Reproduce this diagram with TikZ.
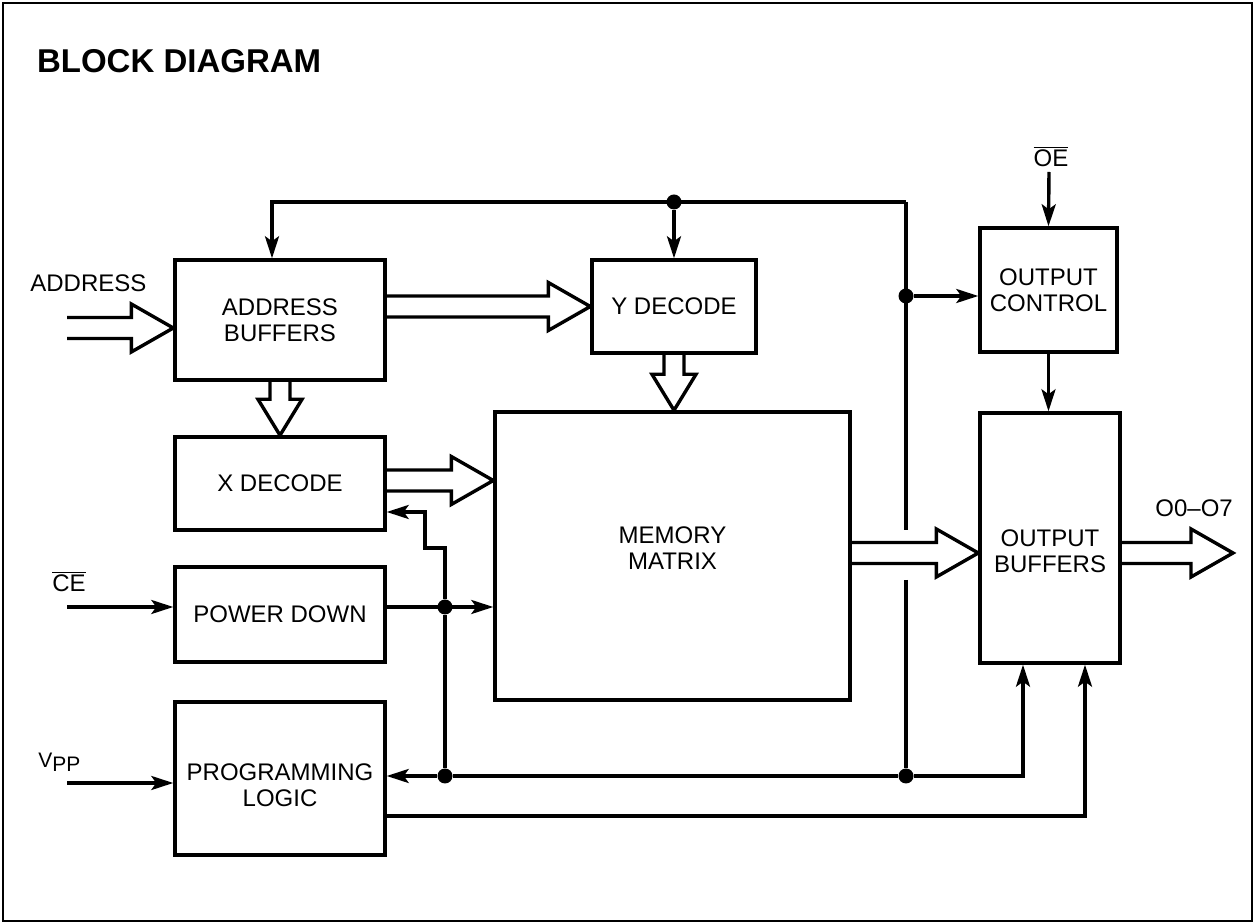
\documentclass[tikz,border=0pt]{standalone}
\usepackage{fontspec}
\setmainfont{Liberation Sans}
\usepackage{tikz}
\usetikzlibrary{arrows.meta,calc,positioning}
\colorlet{colorLN}{black}
\newcommand{\blkfont}{\fontsize{12}{13}\selectfont}
\tikzset{
   every path/.style={>={Stealth[length=11pt,width=7pt,inset=2.5pt]}},
   sig/.style={->,draw=colorLN,line width=1.7pt},
   wire/.style={draw=colorLN,line width=1.7pt},
   bus/.style={draw=colorLN,line width=1.7pt,line join=miter},
   jn/.style={circle,fill=colorLN,inner sep=0pt,minimum size=7.5pt},
   frame/.style={draw=colorLN,line width=1pt},
}
% wide bus arrow, left to right, tip at #2
\newcommand{\hbus}[2]{%
  \draw[bus] let \p1=(#1), \p2=(#2) in
    (\x1,\y2+5.25pt) -- (\x2-21pt,\y2+5.25pt) -- (\x2-21pt,\y2+12pt) -- (\x2,\y2)
    -- (\x2-21pt,\y2-12pt) -- (\x2-21pt,\y2-5.25pt) -- (\x1,\y2-5.25pt);}
% wide bus arrow, top to bottom, tip at #2
\newcommand{\vbus}[2]{%
  \draw[bus] let \p1=(#1), \p2=(#2) in
    (\x2-5pt,\y1) -- (\x2-5pt,\y2+18pt) -- (\x2-11pt,\y2+18pt) -- (\x2,\y2)
    -- (\x2+11pt,\y2+18pt) -- (\x2+5pt,\y2+18pt) -- (\x2+5pt,\y1);}

\begin{document}
\begin{tikzpicture}[x=0.5pt,y=-0.5pt,
  box/.style={rectangle,draw=colorLN,line width=1.7pt,align=center,inner sep=0pt,font=\blkfont},
  lbl/.style={draw=none,font=\blkfont,inner sep=0pt,align=center}]
\useasboundingbox (0,0) rectangle (1255,924);
\draw[frame] (3,3) rectangle (1252,921);

\node[anchor=base west,font=\fontsize{16.5}{18}\selectfont\bfseries] (title) at (30,73) {BLOCK DIAGRAM};

\begin{scope}[every node/.style={box}]
  \node[minimum width=105pt,minimum height=60pt] (ab) at (280,320) {ADDRESS\\BUFFERS};
  \node[minimum width=82pt,minimum height=46.5pt] (yd) at (674,306.5) {Y DECODE};
  \node[minimum width=105pt,minimum height=46.5pt] (xd) at (280,483.5) {X DECODE};
  \node[minimum width=105pt,minimum height=47.5pt] (pd) at (280,614.5) {POWER DOWN};
  \node[minimum width=105pt,minimum height=76.5pt,label={[lbl,yshift=-3.5pt]center:{PROGRAMMING\\LOGIC}}] (pl) at (280,778.5) {};
  \node[minimum width=177.5pt,minimum height=144pt,label={[lbl,yshift=4pt]center:{MEMORY\\MATRIX}}] (mm) at (672.5,556) {};
  \node[minimum width=68.5pt,minimum height=62pt] (oc) at (1048.5,290) {OUTPUT\\CONTROL};
  \node[minimum width=70pt,minimum height=125pt,label={[lbl,yshift=-6.5pt]center:{OUTPUT\\BUFFERS}}] (ob) at (1050,538) {};
\end{scope}

% inputs and outputs
\node[lbl,anchor=base west] (addr) at (30,292) {ADDRESS};
\node[lbl,anchor=base west] (ce) at (52,592) {$\overline{\mbox{CE}}$};
\node[lbl,anchor=base west,font=\fontsize{10.5}{12}\selectfont] (vpp) at (38,768) {V\raisebox{-2pt}{PP}};
\node[lbl,anchor=base] (oe) at (1051,167) {$\overline{\mbox{OE}}$};
\node[lbl,anchor=base west] (o07) at (1155,517) {O0--O7};

\coordinate (addrin) at (67,328);
\coordinate (cein) at (67,607);
\coordinate (vppin) at (67,783);
\coordinate (oein) at (1049,172);
\coordinate (o7) at (1233,553);
\coordinate (tr) at (906,202);
\coordinate (k1) at (425,548);
\coordinate (k2) at (425,512);

% junctions
\node[jn] (jE) at (yd.north |- tr) {};
\node[jn] (jA) at (906,296) {};
\node[jn] (jB) at (445,607) {};
\node[jn] (jC) at (445,776) {};
\node[jn] (jD) at (906,776) {};

% buses
\hbus{addrin}{$(ab.west)+(0,8)$}
\hbus{ab.east}{yd.west}
\vbus{ab.south}{xd.north}
\vbus{yd.south}{mm.north -| yd.south}
\hbus{xd.east}{$(mm.west |- xd.east)+(0,-3)$}
\hbus{mm.east}{$(ob.west |- mm.east)+(0,-3)$}
\hbus{ob.east}{o7}

% control lines
\draw[sig] (tr) -| ([xshift=-4pt]ab.north);
\draw[sig] (jE) -- (yd.north);
\draw[wire] (tr) -- (906,530);
\draw[wire] (906,580) -- (jD);
\draw[sig] (jA) -- (oc.west |- jA);
\draw[sig] (oein) -- (oc.north);
\draw[sig] (oc.south) -- (ob.north -| oc.south);
\draw[sig] (cein) -- (pd.west |- cein);
\draw[sig] (pd.east |- jB) -- (mm.west |- jB);
\draw[sig] (jB) |- (k1) -- (k2) -- (xd.east |- k2);
\draw[wire] (jB) -- (jC);
\draw[sig] (jD) -- (jC) -- (pl.east |- jC);
\draw[sig] (jD) -| ([xshift=-13.5pt]ob.south);
\draw[sig] (vppin) -- (pl.west |- vppin);
\draw[sig] ($(pl.east)+(0,37.5)$) -| ([xshift=17.5pt]ob.south);
\end{tikzpicture}
\end{document}
